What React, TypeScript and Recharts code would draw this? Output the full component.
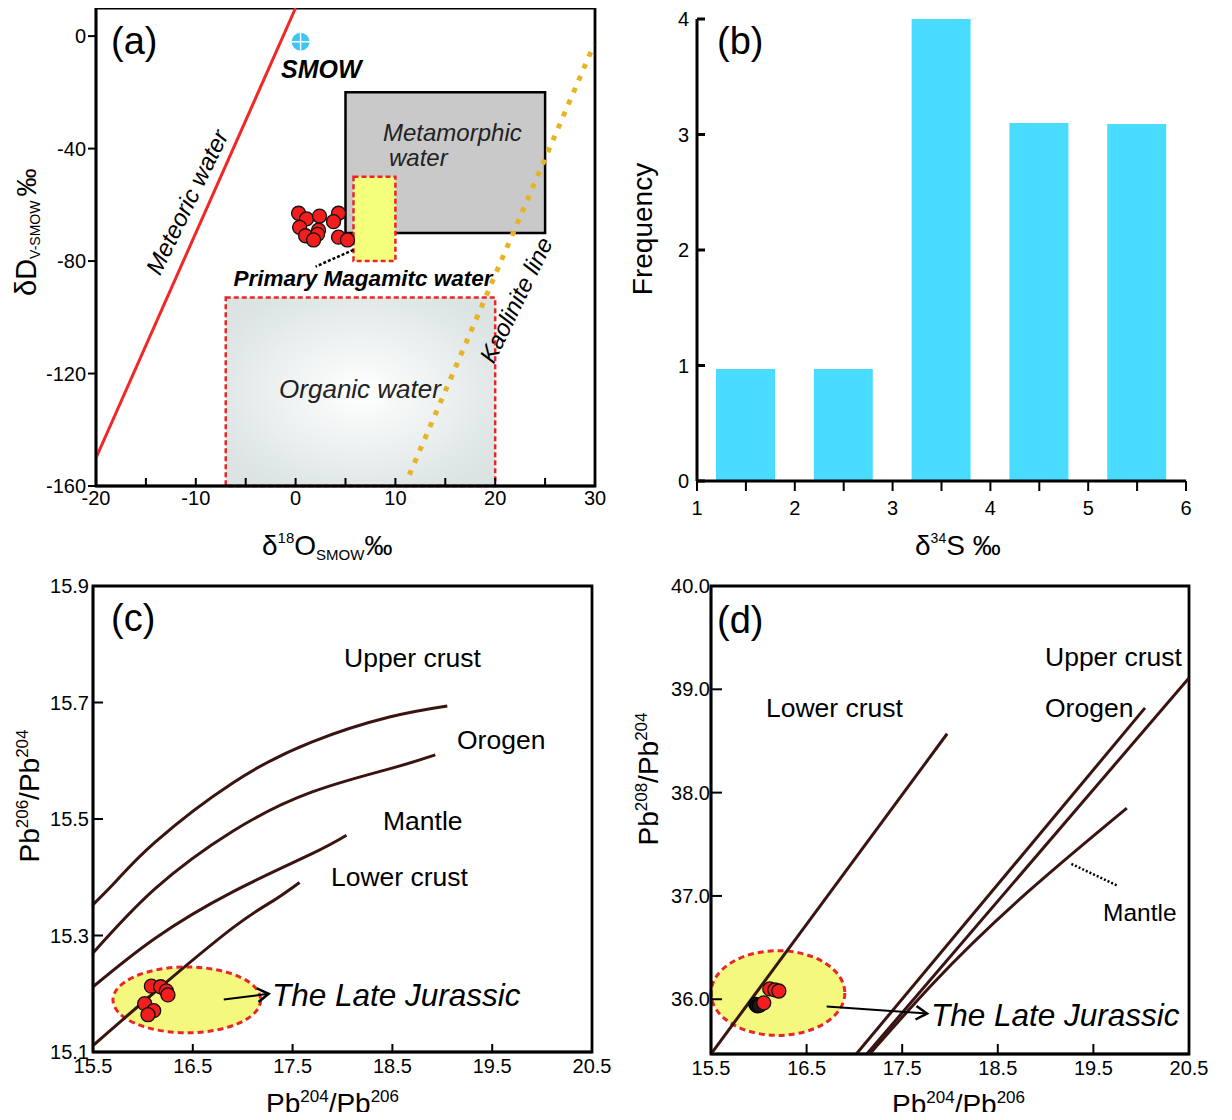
import React from "react";
import {
  Bar,
  ComposedChart,
  Line,
  ReferenceArea,
  ReferenceLine,
  Scatter,
  XAxis,
  YAxis,
} from "recharts";

const FONT = "'Liberation Sans', Arial, sans-serif";

// ---- (a) H-O isotopes ----
const meteoricLine = [
  { x: -20, y: -150 },
  { x: 0, y: 10 },
];
const kaoliniteLine = [
  { x: 11.4, y: -156 },
  { x: 29.9, y: -3 },
];
const smowPoint = [{ x: 0.5, y: -2 }];
const fluidO18 = [0.3, 1.1, 2.4, 4.3, 3.8, 0.4, 1.0, 2.3, 2.2, 1.8, 4.3, 5.2];
const fluidD = [-63, -65, -64, -63, -66, -68, -71, -69, -70.5, -72.5, -71.5, -72.5];
const metamorphicBox = [5, 25, -70, -20];
const magmaticBox = [5.8, 10, -80, -50];
const organicBox = [-7, 20, -160, -93];
const magmaticLeader = [
  { x: 5.8, y: -76 },
  { x: 2, y: -82 },
];
const aTicksX = [-20, -15, -10, -5, 0, 5, 10, 15, 20, 25, 30];
const aTicksY = [-160, -120, -80, -40, 0];

// ---- (b) sulfur histogram ----
const sulfurBinMid = [1.5, 2.5, 3.5, 4.5, 5.5];
const sulfurCounts = [0.97, 0.97, 4.0, 3.1, 3.09];
const bTicksX = [1, 1.5, 2, 2.5, 3, 3.5, 4, 4.5, 5, 5.5, 6];
const bTicksY = [0, 1, 2, 3, 4];

// ---- (c) 207Pb diagram ----
const cUpperX = [15.5, 15.73, 16.12, 16.9, 17.69, 18.47, 19.05];
const cUpperY = [15.353, 15.393, 15.46, 15.562, 15.632, 15.675, 15.694];
const cOrogenX = [15.5, 16.12, 16.9, 17.69, 18.47, 18.93];
const cOrogenY = [15.27, 15.38, 15.479, 15.546, 15.586, 15.61];
const cMantleX = [15.5, 16.12, 16.9, 17.69, 18.04];
const cMantleY = [15.212, 15.295, 15.375, 15.44, 15.472];
const cLowerX = [15.5, 16.12, 16.9, 17.3, 17.57];
const cLowerY = [15.111, 15.203, 15.313, 15.359, 15.391];
const cSampleX = [16.085, 16.178, 16.235, 16.251, 16.018, 16.108, 16.051];
const cSampleY = [15.213, 15.212, 15.205, 15.198, 15.183, 15.171, 15.164];
const cEllipse = [15.7, 17.18, 15.133, 15.246];
const cArrow = [
  { x: 16.81, y: 15.19 },
  { x: 17.26, y: 15.2 },
];
const cTicksX = [15.5, 16.5, 17.5, 18.5, 19.5, 20.5];
const cTicksY = [15.1, 15.3, 15.5, 15.7, 15.9];

// ---- (d) 208Pb diagram ----
const dLowerX = [15.5, 17.97];
const dLowerY = [35.47, 38.57];
const dOrogenX = [17.02, 20.04];
const dOrogenY = [35.47, 38.82];
const dUpperX = [17.13, 20.5];
const dUpperY = [35.47, 39.11];
const dMantleX = [17.16, 17.82, 19.85];
const dMantleY = [35.47, 36.15, 37.85];
const dDarkX = [15.968, 15.985, 16.007];
const dDarkY = [35.95, 35.935, 35.94];
const dSampleX = [16.115, 16.168, 16.21, 16.052];
const dSampleY = [36.1, 36.09, 36.08, 35.965];
const dEllipse = [15.5, 16.9, 35.65, 36.47];
const dArrow = [
  { x: 16.71, y: 35.93 },
  { x: 17.76, y: 35.862 },
];
const dMantleLeader = [
  { x: 19.27, y: 37.31 },
  { x: 19.75, y: 37.1 },
];
const dTicksX = [15.5, 16.5, 17.5, 18.5, 19.5, 20.5];
const dTicksY = [36, 37, 38, 39, 40];

const zip = (xs: number[], ys: number[]) => xs.map((x, i) => ({ x, y: ys[i] }));

const tickStyle = { fill: "#000", fontSize: 20, fontFamily: FONT };
const axisLine = { stroke: "#000", strokeWidth: 2.5 };
const tickLine = { stroke: "#000", strokeWidth: 2 };
const CURVE = "#3a1410";

const redDot = (p: any) => (
  <circle cx={p.cx} cy={p.cy} r={7} fill="#f21d1d" stroke="#111" strokeWidth={1.3} />
);
const darkDot = (p: any) => (
  <circle cx={p.cx} cy={p.cy} r={7} fill="#1a1a1a" stroke="#000" strokeWidth={1.3} />
);
const smowDot = (p: any) => (
  <g>
    <circle cx={p.cx} cy={p.cy} r={9} fill="#3ec6f2" />
    <line x1={p.cx - 9} y1={p.cy} x2={p.cx + 9} y2={p.cy} stroke="#fff" strokeWidth={1.5} />
    <line x1={p.cx} y1={p.cy - 9} x2={p.cx} y2={p.cy + 9} stroke="#fff" strokeWidth={1.5} />
  </g>
);
const ellipseShape = (p: any) => (
  <ellipse
    cx={p.x + p.width / 2}
    cy={p.y + p.height / 2}
    rx={Math.abs(p.width) / 2}
    ry={Math.abs(p.height) / 2}
    fill="#f4f87e"
    stroke="#e8262a"
    strokeWidth={3}
    strokeDasharray="6 4"
  />
);
const arrowShape = (p: any) => {
  const { x1, y1, x2, y2 } = p;
  const a = Math.atan2(y2 - y1, x2 - x1);
  const L = 13;
  const w = 0.55;
  const pts = `${x2 - L * Math.cos(a - w)},${y2 - L * Math.sin(a - w)} ${x2},${y2} ${
    x2 - L * Math.cos(a + w)
  },${y2 - L * Math.sin(a + w)}`;
  return (
    <g>
      <line x1={x1} y1={y1} x2={x2} y2={y2} stroke="#000" strokeWidth={2} />
      <polyline points={pts} fill="none" stroke="#000" strokeWidth={2.5} />
    </g>
  );
};

// box around the whole plotting area
const frame = (dx: number[], dy: number[]) => (
  <ReferenceArea
    x1={dx[0]}
    x2={dx[1]}
    y1={dy[0]}
    y2={dy[1]}
    fill="none"
    stroke="#000"
    strokeWidth={2.8}
    ifOverflow="visible"
  />
);

const PanelA = () => (
  <ComposedChart width={610} height={560} margin={{ top: 8, right: 15, bottom: 0, left: 0 }}>
    <XAxis
      type="number"
      dataKey="x"
      domain={[-20, 30]}
      ticks={aTicksX}
      interval={0}
      allowDataOverflow
      tickFormatter={(v: number) => (v % 10 === 0 ? String(v) : "")}
      height={74}
      tickSize={-8}
      tickMargin={13}
      axisLine={axisLine}
      tickLine={tickLine}
      tick={tickStyle}
    />
    <YAxis
      type="number"
      dataKey="y"
      domain={[-160, 10]}
      ticks={aTicksY}
      interval={0}
      allowDataOverflow
      width={96}
      tickSize={8}
      tickMargin={2}
      axisLine={axisLine}
      tickLine={tickLine}
      tick={tickStyle}
    />
    <ReferenceArea
      x1={organicBox[0]}
      x2={organicBox[1]}
      y1={organicBox[2]}
      y2={organicBox[3]}
      fill="url(#orgGrad)"
      fillOpacity={1}
      stroke="#e8262a"
      strokeWidth={2.5}
      strokeDasharray="5 3"
    />
    <ReferenceArea
      x1={metamorphicBox[0]}
      x2={metamorphicBox[1]}
      y1={metamorphicBox[2]}
      y2={metamorphicBox[3]}
      fill="#c9c9c9"
      fillOpacity={1}
      stroke="#000"
      strokeWidth={2.5}
    />
    <ReferenceArea
      x1={magmaticBox[0]}
      x2={magmaticBox[1]}
      y1={magmaticBox[2]}
      y2={magmaticBox[3]}
      fill="#f4ff7c"
      fillOpacity={1}
      stroke="#e8262a"
      strokeWidth={2.5}
      strokeDasharray="5 3"
    />
    {frame([-20, 30], [-160, 10])}
    <ReferenceLine segment={magmaticLeader} stroke="#000" strokeWidth={2.5} strokeDasharray="3 2" />
    <Line data={kaoliniteLine} dataKey="y" type="linear" dot={false} stroke="#e6b422" strokeWidth={5} strokeDasharray="5 8" isAnimationActive={false} />
    <Line data={meteoricLine} dataKey="y" type="linear" dot={false} stroke="#f02828" strokeWidth={3} isAnimationActive={false} />
    <Scatter data={zip(fluidO18, fluidD)} shape={redDot} isAnimationActive={false} />
    <Scatter data={smowPoint} shape={smowDot} isAnimationActive={false} />
  </ComposedChart>
);

const PanelB = () => (
  <ComposedChart
    width={622}
    height={560}
    data={sulfurBinMid.map((x, i) => ({ x, count: sulfurCounts[i] }))}
    margin={{ top: 19, right: 46, bottom: 0, left: 0 }}
  >
    <XAxis
      type="number"
      dataKey="x"
      domain={[1, 6]}
      ticks={bTicksX}
      interval={0}
      allowDataOverflow
      tickFormatter={(v: number) => (Number.isInteger(v) ? String(v) : "")}
      height={79}
      tickSize={10}
      tickMargin={10}
      axisLine={{ stroke: "#000", strokeWidth: 3 }}
      tickLine={tickLine}
      tick={tickStyle}
    />
    <YAxis
      type="number"
      domain={[0, 4]}
      ticks={bTicksY}
      interval={0}
      width={87}
      tickSize={-8}
      tickMargin={16}
      axisLine={{ stroke: "#000", strokeWidth: 3 }}
      tickLine={{ stroke: "#000", strokeWidth: 3 }}
      tick={tickStyle}
    />
    <Bar dataKey="count" fill="#4adcfe" barSize={59} isAnimationActive={false} />
  </ComposedChart>
);

const PanelC = () => (
  <ComposedChart width={610} height={560} margin={{ top: 26, right: 18, bottom: 0, left: 0 }}>
    <XAxis
      type="number"
      dataKey="x"
      domain={[15.5, 20.5]}
      ticks={cTicksX}
      interval={0}
      allowDataOverflow
      tickFormatter={(v: number) => v.toFixed(1)}
      height={68}
      tickSize={-8}
      tickMargin={15}
      axisLine={axisLine}
      tickLine={tickLine}
      tick={tickStyle}
    />
    <YAxis
      type="number"
      dataKey="y"
      domain={[15.1, 15.9]}
      ticks={cTicksY}
      interval={0}
      allowDataOverflow
      tickFormatter={(v: number) => v.toFixed(1)}
      width={93}
      tickSize={-10}
      tickMargin={14}
      axisLine={axisLine}
      tickLine={tickLine}
      tick={tickStyle}
    />
    <ReferenceArea x1={cEllipse[0]} x2={cEllipse[1]} y1={cEllipse[2]} y2={cEllipse[3]} shape={ellipseShape} ifOverflow="visible" />
    {frame([15.5, 20.5], [15.1, 15.9])}
    <Line data={zip(cUpperX, cUpperY)} dataKey="y" type="natural" dot={false} stroke={CURVE} strokeWidth={3} isAnimationActive={false} />
    <Line data={zip(cOrogenX, cOrogenY)} dataKey="y" type="natural" dot={false} stroke={CURVE} strokeWidth={3} isAnimationActive={false} />
    <Line data={zip(cMantleX, cMantleY)} dataKey="y" type="natural" dot={false} stroke={CURVE} strokeWidth={3} isAnimationActive={false} />
    <Line data={zip(cLowerX, cLowerY)} dataKey="y" type="natural" dot={false} stroke={CURVE} strokeWidth={3} isAnimationActive={false} />
    <ReferenceLine segment={cArrow} shape={arrowShape} />
    <Scatter data={zip(cSampleX, cSampleY)} shape={redDot} isAnimationActive={false} />
  </ComposedChart>
);

const PanelD = () => (
  <ComposedChart width={622} height={560} margin={{ top: 26, right: 43, bottom: 0, left: 0 }}>
    <XAxis
      type="number"
      dataKey="x"
      domain={[15.5, 20.5]}
      ticks={dTicksX}
      interval={0}
      allowDataOverflow
      tickFormatter={(v: number) => v.toFixed(1)}
      height={66}
      tickSize={-10}
      tickMargin={17}
      axisLine={axisLine}
      tickLine={tickLine}
      tick={tickStyle}
    />
    <YAxis
      type="number"
      dataKey="y"
      domain={[35.47, 40]}
      ticks={dTicksY}
      interval={0}
      allowDataOverflow
      tickFormatter={(v: number) => v.toFixed(1)}
      width={101}
      tickSize={-11}
      tickMargin={12}
      axisLine={axisLine}
      tickLine={tickLine}
      tick={tickStyle}
    />
    <ReferenceArea x1={dEllipse[0]} x2={dEllipse[1]} y1={dEllipse[2]} y2={dEllipse[3]} shape={ellipseShape} ifOverflow="visible" />
    {frame([15.5, 20.5], [35.47, 40])}
    <Line data={zip(dLowerX, dLowerY)} dataKey="y" type="linear" dot={false} stroke={CURVE} strokeWidth={3} isAnimationActive={false} />
    <Line data={zip(dOrogenX, dOrogenY)} dataKey="y" type="linear" dot={false} stroke={CURVE} strokeWidth={3} isAnimationActive={false} />
    <Line data={zip(dUpperX, dUpperY)} dataKey="y" type="linear" dot={false} stroke={CURVE} strokeWidth={3} isAnimationActive={false} />
    <Line data={zip(dMantleX, dMantleY)} dataKey="y" type="monotone" dot={false} stroke={CURVE} strokeWidth={3} isAnimationActive={false} />
    <ReferenceLine segment={dMantleLeader} stroke="#000" strokeWidth={2.5} strokeDasharray="2 2" />
    <ReferenceLine segment={dArrow} shape={arrowShape} />
    <Scatter data={zip(dDarkX, dDarkY)} shape={darkDot} isAnimationActive={false} />
    <Scatter data={zip(dSampleX, dSampleY)} shape={redDot} isAnimationActive={false} />
  </ComposedChart>
);

const Labels = () => (
  <svg
    width={1232}
    height={1120}
    style={{ position: "absolute", left: 0, top: 0, pointerEvents: "none" }}
    fontFamily={FONT}
    fill="#000"
  >
    {/* (a) */}
    <text x={111} y={54} fontSize={38}>(a)</text>
    <text x={281} y={78} fontSize={25} fontWeight="bold" fontStyle="italic">SMOW</text>
    <text x={383} y={141} fontSize={24} fontStyle="italic" fill="#222">Metamorphic</text>
    <text x={389} y={166} fontSize={24} fontStyle="italic" fill="#222">water</text>
    <text x={363} y={286} fontSize={22.5} fontWeight="bold" fontStyle="italic" textAnchor="middle">
      Primary Magamitc water
    </text>
    <text x={360} y={398} fontSize={26} fontStyle="italic" textAnchor="middle" fill="#222">Organic water</text>
    <text transform="translate(187,202) rotate(-64)" fontSize={24} fontStyle="italic" textAnchor="middle" dy="0.35em">
      Meteoric water
    </text>
    <text transform="translate(516,300) rotate(-64)" fontSize={24} fontStyle="italic" textAnchor="middle" dy="0.35em">
      Kaolinite line
    </text>
    <text transform="translate(36,296) rotate(-90)" fontSize={29}>
      δD<tspan fontSize={14} dy={4}>V-SMOW</tspan>
      <tspan fontSize={28} dy={-4} dx={4}>‰</tspan>
    </text>
    <text x={262} y={555} fontSize={28}>
      δ<tspan fontSize={15} dy={-12}>18</tspan>
      <tspan dy={12}>O</tspan>
      <tspan fontSize={15} dy={5}>SMOW</tspan>
      <tspan dy={-5}>‰</tspan>
    </text>

    {/* (b) */}
    <text x={717} y={54} fontSize={38}>(b)</text>
    <text transform="translate(652,229) rotate(-90)" fontSize={28} textAnchor="middle">Frequency</text>
    <text x={915} y={555} fontSize={28}>
      δ<tspan fontSize={14} dy={-12}>34</tspan>
      <tspan dy={12}>S ‰</tspan>
    </text>

    {/* (c) */}
    <text x={111} y={631} fontSize={38}>(c)</text>
    <text x={344} y={667} fontSize={26.5}>Upper crust</text>
    <text x={457} y={749} fontSize={26.5}>Orogen</text>
    <text x={383} y={830} fontSize={26.5}>Mantle</text>
    <text x={331} y={886} fontSize={26.5}>Lower crust</text>
    <text x={272} y={1006} fontSize={31.5} fontStyle="italic">The Late Jurassic</text>
    <text transform="translate(39,796) rotate(-90)" fontSize={28} textAnchor="middle">
      Pb<tspan fontSize={17} dy={-11}>206</tspan>
      <tspan dy={11}>/Pb</tspan>
      <tspan fontSize={17} dy={-11}>204</tspan>
    </text>
    <text x={266} y={1113} fontSize={28}>
      Pb<tspan fontSize={17} dy={-11}>204</tspan>
      <tspan dy={11}>/Pb</tspan>
      <tspan fontSize={17} dy={-11}>206</tspan>
    </text>

    {/* (d) */}
    <text x={717} y={633} fontSize={38}>(d)</text>
    <text x={1045} y={666} fontSize={26.5}>Upper crust</text>
    <text x={1045} y={717} fontSize={26.5}>Orogen</text>
    <text x={766} y={717} fontSize={26.5}>Lower crust</text>
    <text x={1103} y={921} fontSize={24.5}>Mantle</text>
    <text x={931} y={1026} fontSize={31.5} fontStyle="italic">The Late Jurassic</text>
    <text transform="translate(658,779) rotate(-90)" fontSize={28} textAnchor="middle">
      Pb<tspan fontSize={17} dy={-11}>208</tspan>
      <tspan dy={11}>/Pb</tspan>
      <tspan fontSize={17} dy={-11}>204</tspan>
    </text>
    <text x={892} y={1114} fontSize={28}>
      Pb<tspan fontSize={17} dy={-11}>204</tspan>
      <tspan dy={11}>/Pb</tspan>
      <tspan fontSize={17} dy={-11}>206</tspan>
    </text>
  </svg>
);

export default function App() {
  return (
    <div style={{ position: "relative", width: 1232, height: 1120, margin: -8, background: "#fff", fontFamily: FONT }}>
      <style>{"svg{overflow:visible}"}</style>
      <svg width={0} height={0} style={{ position: "absolute" }}>
        <defs>
          <radialGradient id="orgGrad" cx="50%" cy="50%" r="60%">
            <stop offset="0%" stopColor="#ffffff" />
            <stop offset="100%" stopColor="#dbe3e3" />
          </radialGradient>
        </defs>
      </svg>
      <div style={{ position: "absolute", left: 0, top: 0 }}>
        <PanelA />
      </div>
      <div style={{ position: "absolute", left: 610, top: 0 }}>
        <PanelB />
      </div>
      <div style={{ position: "absolute", left: 0, top: 560 }}>
        <PanelC />
      </div>
      <div style={{ position: "absolute", left: 610, top: 560 }}>
        <PanelD />
      </div>
      <Labels />
    </div>
  );
}
